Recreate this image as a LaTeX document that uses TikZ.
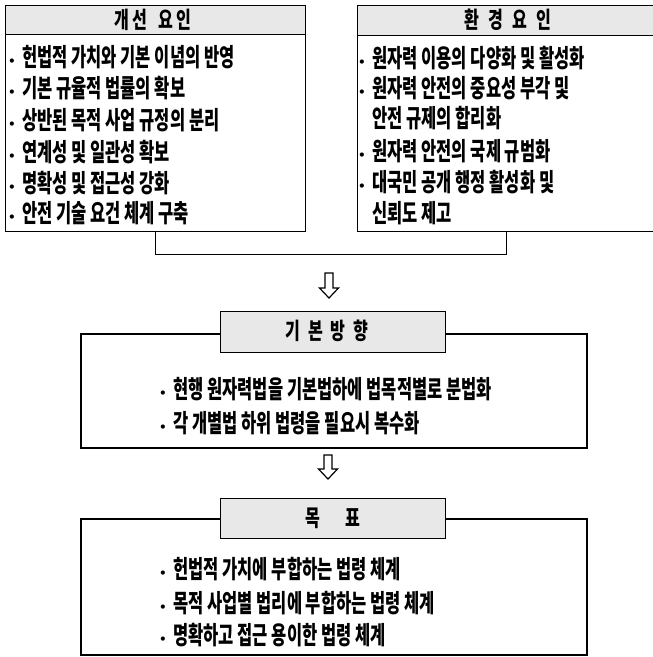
\documentclass[tikz,border=0pt]{standalone}
\usepackage{fontspec}
\usetikzlibrary{calc}
\newfontfamily\kr{Noto Sans CJK KR}[FakeStretch=0.66]
\newfontfamily\krh{Noto Sans CJK KR}[FakeStretch=0.7]
\newfontfamily\krb{DejaVu Sans}
\newcommand\itemfont{\kr\bfseries\fontsize{25}{25}\selectfont}
\newcommand\hdrfont{\krh\bfseries\fontsize{23}{23}\selectfont}
\newcommand\bul{\makebox[14pt][l]{\raisebox{1pt}{\krb\fontsize{12}{12}\selectfont •}}}
\begin{document}
\begin{tikzpicture}[x=1pt,y=-1pt,
  box/.style={draw, line width=1.3pt, inner sep=0, anchor=north west},
  obox/.style={draw, line width=1.6pt, inner sep=0, anchor=north west},
  hdr/.style={draw, fill=black!9, line width=1.4pt, inner sep=0, anchor=north west},
  item/.style={anchor=west, inner sep=0, font=\itemfont},
  htext/.style={inner sep=0, font=\hdrfont},
  conn/.style={draw, line width=1.3pt},
  harrow/.style={draw, line width=1.2pt, line join=miter, fill=white}]
\useasboundingbox (0,0) rectangle (653,657);

% top-left box
\node[box, minimum width=300, minimum height=226] (lbox) at (5,5) {};
\node[hdr, minimum width=300, minimum height=29] (lhdr) at (5,5) {};
\node[htext] (lht) at (153,20) {개\hspace{3pt}선\hspace{11pt}요\hspace{3pt}인};
\node[item] (l1) at (8,57)  {\bul 헌법적 가치와 기본 이념의 반영};
\node[item] (l2) at (8,88)  {\bul 기본 규율적 법률의 확보};
\node[item] (l3) at (8,120) {\bul 상반된 목적 사업 규정의 분리};
\node[item] (l4) at (8,152) {\bul 연계성 및 일관성 확보};
\node[item] (l5) at (8,183) {\bul 명확성 및 접근성 강화};
\node[item] (l6) at (8,213) {\bul 안전 기술 요건 체계 구축};

% top-right box
\node[box, minimum width=297, minimum height=226] (rbox) at (357,5) {};
\node[hdr, minimum width=297, minimum height=30] (rhdr) at (357,5) {};
\node[htext] (rht) at (508,20) {환\hspace{9pt}경\hspace{9pt}요\hspace{9pt}인};
\node[item] (r1) at (358,58)  {\bul 원자력 이용의 다양화 및 활성화};
\node[item] (r2) at (358,88)  {\bul 원자력 안전의 중요성 부각 및};
\node[item] (r2b) at (372,118) {안전 규제의 합리화};
\node[item] (r3) at (358,151) {\bul 원자력 안전의 국제 규범화};
\node[item] (r4) at (358,182) {\bul 대국민 공개 행정 활성화 및};
\node[item] (r4b) at (372,213) {신뢰도 제고};

% bracket connector
\draw[conn] (lbox.south) -- ++(0,22) -| (rbox.south);

% arrow 1
\coordinate (a1) at (329,273);
\draw[harrow] ($(a1)+(-4,0)$) -- ++(0,15) -- ++(-5.5,0) -- ($(a1)+(0,25)$)
  -- ++(9.5,-10) -- ++(-5.5,0) -- ++(0,-15) -- cycle;

% basic direction
\node[obox, minimum width=506, minimum height=114] (bbox) at (80,333) {};
\node[hdr, minimum width=225, minimum height=41] (bhdr) at (220,311) {};
\node[htext] (bht) at (327,331) {기\hspace{8pt}본\hspace{8pt}방\hspace{8pt}향};
\node[item] (b1) at (159,389) {\bul 현행 원자력법을 기본법하에 법목적별로 분법화};
\node[item] (b2) at (159,423) {\bul 각 개별법 하위 법령을 필요시 복수화};

% arrow 2
\coordinate (a2) at (328,455);
\draw[harrow] ($(a2)+(-4,0)$) -- ++(0,14) -- ++(-5.5,0) -- ($(a2)+(0,24)$)
  -- ++(9.5,-10) -- ++(-5.5,0) -- ++(0,-14) -- cycle;

% goal
\node[obox, minimum width=506, minimum height=136] (gbox) at (80,518) {};
\node[hdr, minimum width=225, minimum height=40] (ghdr) at (220,498) {};
\node[htext] (ght) at (333,518) {목\hspace{26pt}표};
\node[item] (g1) at (159,569) {\bul 헌법적 가치에 부합하는 법령 체계};
\node[item] (g2) at (159,603) {\bul 목적 사업별 법리에 부합하는 법령 체계};
\node[item] (g3) at (159,635) {\bul 명확하고 접근 용이한 법령 체계};
\end{tikzpicture}
\end{document}
